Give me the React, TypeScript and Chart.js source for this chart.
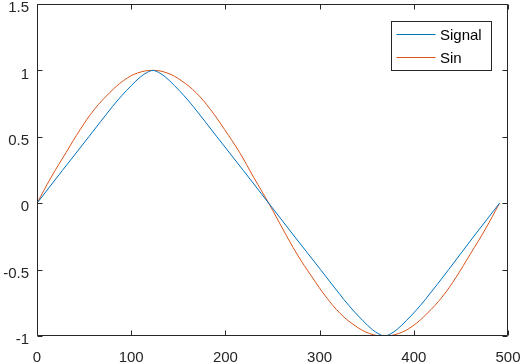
import React, { useEffect, useRef } from "react";
import { Chart, registerables } from "chart.js";

Chart.register(...registerables);

const xTicks = [0, 100, 200, 300, 400, 500];
const yTicks = [-1, -0.5, 0, 0.5, 1, 1.5];

const seriesLabels = ["Signal", "Sin"];
const seriesColors = ["#0072BD", "#D95319"];

const signalX = [0, 27, 55, 80, 90, 100, 110, 117, 123, 129, 136, 146, 156, 166, 191, 219, 246,
  273, 301, 326, 336, 346, 356, 363, 369, 375, 382, 392, 402, 412, 437, 464, 491];
const signalY = [0, 0.247, 0.5, 0.727, 0.81, 0.885, 0.952, 0.985, 1, 0.985, 0.952, 0.885, 0.81, 0.727, 0.5, 0.247, 0,
  -0.247, -0.5, -0.727, -0.81, -0.885, -0.952, -0.985, -1, -0.985, -0.952, -0.885, -0.81, -0.727, -0.5, -0.247, 0];

const sinX = [0, 15, 31, 46, 61, 77, 92, 107, 123, 138, 153, 169, 184, 199, 215, 230, 246,
  261, 276, 292, 307, 322, 338, 353, 368, 384, 399, 414, 430, 445, 460, 476, 491];
const sinY = [0, 0.195, 0.383, 0.556, 0.707, 0.831, 0.924, 0.981, 1, 0.981, 0.924, 0.831, 0.707, 0.556, 0.383, 0.195, 0,
  -0.195, -0.383, -0.556, -0.707, -0.831, -0.924, -0.981, -1, -0.981, -0.924, -0.831, -0.707, -0.556, -0.383, -0.195, 0];

const FONT = "'Liberation Sans', Arial, sans-serif";
const INK = "#262626";

const axesPlugin = {
  id: "matlabAxes",
  afterDraw(chart: any) {
    const { ctx, chartArea } = chart;
    const xs = chart.scales.x;
    const ys = chart.scales.y;
    const L = Math.round(chartArea.left) + 0.5;
    const R = Math.round(chartArea.right) - 0.5;
    const T = Math.round(chartArea.top) + 0.5;
    const B = Math.round(chartArea.bottom) - 0.5;
    const tl = 5;
    ctx.save();
    ctx.strokeStyle = INK;
    ctx.lineWidth = 1;
    ctx.beginPath();
    ctx.rect(L, T, R - L, B - T);
    for (const t of xs.ticks) {
      const px = Math.round(xs.getPixelForValue(t.value)) + 0.5;
      ctx.moveTo(px, B); ctx.lineTo(px, B - tl);
      ctx.moveTo(px, T); ctx.lineTo(px, T + tl);
    }
    for (const t of ys.ticks) {
      const py = Math.round(ys.getPixelForValue(t.value)) + 0.5;
      ctx.moveTo(L, py); ctx.lineTo(L + tl, py);
      ctx.moveTo(R, py); ctx.lineTo(R - tl, py);
    }
    ctx.stroke();

    // legend
    const bw = 100, bh = 49;
    const bx = Math.round(chartArea.right - 17 - bw) + 0.5;
    const by = Math.round(chartArea.top + 17) + 0.5;
    ctx.fillStyle = "#ffffff";
    ctx.fillRect(bx, by, bw, bh);
    ctx.strokeStyle = INK;
    ctx.strokeRect(bx, by, bw, bh);
    ctx.font = `15px ${FONT}`;
    ctx.textBaseline = "middle";
    ctx.textAlign = "left";
    chart.data.datasets.forEach((ds: any, i: number) => {
      const yy = Math.round(by + 12.5 + i * 23.3) + 0.5;
      ctx.strokeStyle = ds.borderColor;
      ctx.beginPath();
      ctx.moveTo(bx + 5, yy);
      ctx.lineTo(bx + 44, yy);
      ctx.stroke();
      ctx.fillStyle = "#000000";
      ctx.fillText(ds.label, bx + 48.5, yy + 1);
    });
    ctx.restore();
  },
};

export default function App() {
  const ref = useRef<HTMLCanvasElement | null>(null);
  useEffect(() => {
    document.body.style.margin = "0";
    const canvas = ref.current;
    if (!canvas) return;
    const datasets = [
      { xs: signalX, ys: signalY, mono: true },
      { xs: sinX, ys: sinY, mono: false },
    ].map((s, i) => ({
      label: seriesLabels[i],
      data: s.xs.map((x, j) => ({ x, y: s.ys[j] })),
      borderColor: seriesColors[i],
      backgroundColor: seriesColors[i],
      borderWidth: 1,
      pointRadius: 0,
      fill: false,
      tension: 0.4,
      cubicInterpolationMode: (s.mono ? "monotone" : "default") as any,
    }));
    const chart = new Chart(canvas, {
      type: "line",
      data: { datasets },
      options: {
        animation: false,
        responsive: false,
        events: [],
        layout: { padding: { top: 4, right: 12, left: 0, bottom: 0 } },
        plugins: { legend: { display: false }, tooltip: { enabled: false } },
        scales: {
          x: {
            type: "linear",
            min: 0,
            max: 500,
            afterBuildTicks: (s: any) => { s.ticks = xTicks.map((v) => ({ value: v })); },
            afterFit: (s: any) => { s.height = 27; s.paddingLeft = 0; s.paddingRight = 0; },
            grid: { display: false, drawTicks: false },
            border: { display: false },
            ticks: {
              autoSkip: false,
              maxRotation: 0,
              padding: 13,
              color: INK,
              font: { family: FONT, size: 15, lineHeight: 1.2 },
            },
          },
          y: {
            type: "linear",
            min: -1,
            max: 1.5,
            afterBuildTicks: (s: any) => { s.ticks = yTicks.map((v) => ({ value: v })); },
            afterFit: (s: any) => { s.width = 37; s.paddingTop = 0; s.paddingBottom = 0; },
            grid: { display: false, drawTicks: false },
            border: { display: false },
            ticks: {
              autoSkip: false,
              padding: 8,
              labelOffset: 4,
              color: INK,
              font: { family: FONT, size: 15, lineHeight: 1.2 },
              callback: (v: any) => String(v),
            },
          },
        },
      },
      plugins: [axesPlugin],
    });
    return () => chart.destroy();
  }, []);
  return (
    <div style={{ width: 520, height: 363 }}>
      <canvas ref={ref} width={520} height={363} />
    </div>
  );
}
